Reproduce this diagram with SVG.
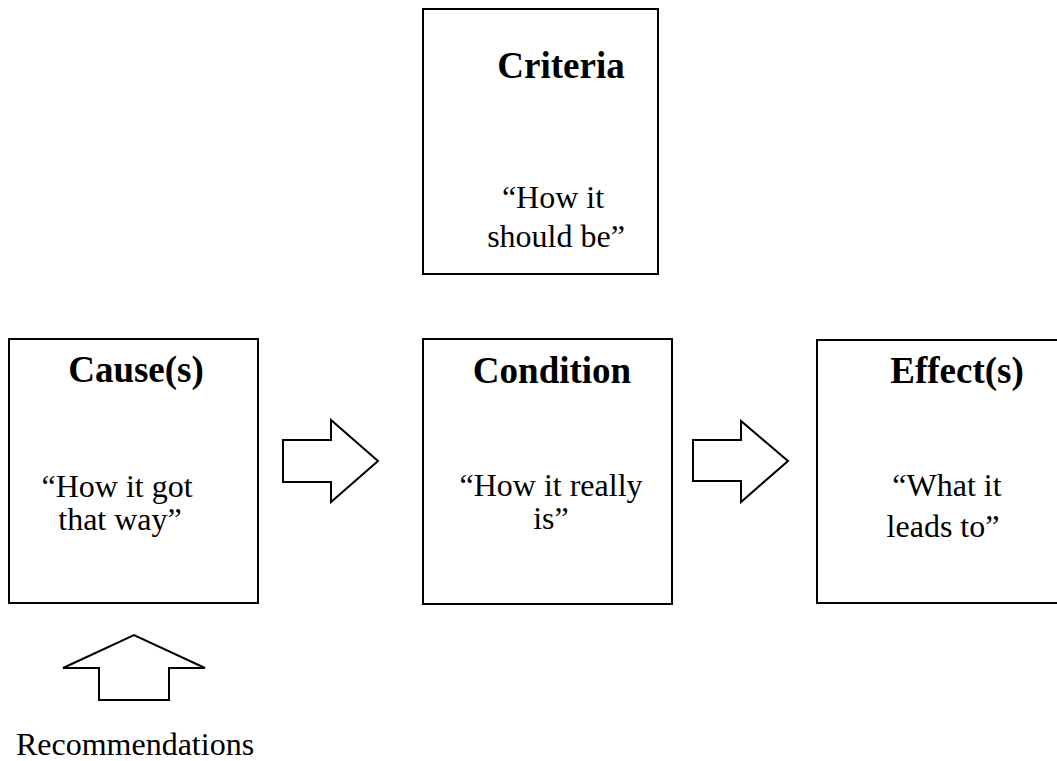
<svg xmlns="http://www.w3.org/2000/svg" width="1057" height="761" viewBox="0 0 1057 761">
<style>
.box{fill:#fff;stroke:#000;stroke-width:2}
.arr{fill:#fff;stroke:#000;stroke-width:2;stroke-linejoin:miter}
.t{font-family:"Liberation Serif","Times New Roman",serif;font-size:37px;font-weight:bold;fill:#000;text-anchor:middle}
.b{font-family:"Liberation Serif","Times New Roman",serif;font-size:32px;fill:#000;text-anchor:middle}
</style>
<rect width="1057" height="761" fill="#fff"/>
<g id="criteria">
<rect class="box" x="423" y="9" width="235" height="265"/>
<text class="t" x="561" y="78">Criteria</text>
<text class="b" x="553" y="208">“How it</text>
<text class="b" x="556" y="247">should be”</text>
</g>
<g id="cause">
<rect class="box" x="9" y="339" width="249" height="264"/>
<text class="t" x="136" y="382">Cause(s)</text>
<text class="b" x="117" y="497">“How it got</text>
<text class="b" x="120" y="530">that way”</text>
</g>
<g id="condition">
<rect class="box" x="423" y="339" width="249" height="265"/>
<text class="t" x="552" y="383">Condition</text>
<text class="b" x="551" y="496">“How it really</text>
<text class="b" x="551" y="529">is”</text>
</g>
<g id="effect">
<rect class="box" x="817" y="340" width="249" height="263"/>
<text class="t" x="957" y="383">Effect(s)</text>
<text class="b" x="947" y="496">“What it</text>
<text class="b" x="943" y="537">leads to”</text>
</g>
<g id="connectors">
<polygon class="arr" points="283,440 331,440 331,420 378,461 331,502 331,482 283,482"/>
<polygon class="arr" points="693,440 741,440 741,421 788,461 741,502 741,481 693,481"/>
<polygon class="arr" points="99,700 99,668 63,668 134,635 205,668 169,668 169,700"/>
</g>
<g id="recommendations">
<text class="b" x="135" y="755">Recommendations</text>
</g>
</svg>
